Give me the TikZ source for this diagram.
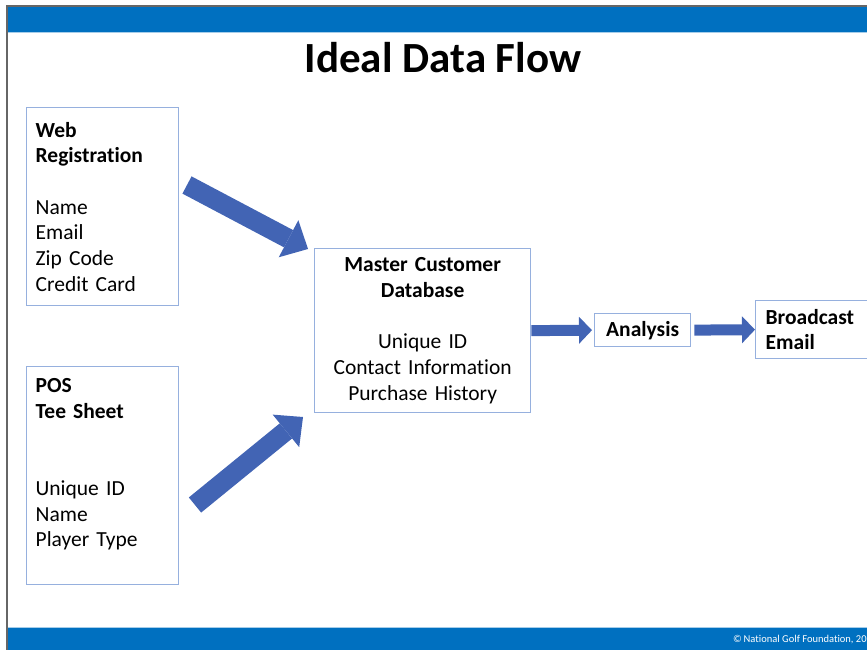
\documentclass[tikz,border=0pt]{standalone}
\usepackage{fontspec}
\setmainfont{Carlito}[Ligatures=NoCommon]
\usetikzlibrary{arrows.meta}

\definecolor{barblue}{RGB}{0,112,192}
\definecolor{boxline}{RGB}{150,176,222}
\definecolor{arrowblue}{RGB}{66,100,180}

\begin{document}
\begin{tikzpicture}[x=1pt, y=-1pt,
  databox/.style={draw=boxline, line width=1.3pt, anchor=north west, inner xsep=9pt, inner ysep=3pt,
    font=\fontsize{21.5}{25.7}\selectfont},
  bigflow/.style={line width=19.5pt, arrowblue, -{Triangle[length=22pt, width=42pt, line width=0pt]}},
  smallflow/.style={line width=11pt, arrowblue, -{Triangle[length=13pt, width=27pt, line width=0pt]}}]
  \useasboundingbox (0,0) rectangle (867,650);
  \clip (0,0) rectangle (867,650);

  % Slide frame and bars
  \fill[barblue] (7,7) rectangle (867,32);
  \draw[barblue!35] (7,32.5) -- (867,32.5);
  \fill[barblue] (7,628) rectangle (867,650);
  \draw[barblue!35] (7,627.5) -- (867,627.5);
  \draw[gray!80!black, line width=1.2pt] (7,650) -- (7,6) -- (867,6);
  \node[font=\fontsize{10.5}{12}\selectfont, text=white, anchor=west, inner sep=0pt] (credit)
    at (733,640) {\textcopyright\,National Golf Foundation, 2022};

  \node[font=\fontsize{43}{50}\selectfont\bfseries, anchor=base] (title) at (443,73) {Ideal Data Flow};

  % Sources
  \node[databox, text width=134pt, minimum height=198pt, align=left] (web) at (26,107)
    {\textbf{Web}\\\textbf{Registration}\\[25.7pt]Name\\Email\\Zip Code\\Credit Card};
  \node[databox, text width=134pt, minimum height=218pt, align=left] (pos) at (26,366)
    {\textbf{POS}\\\textbf{Tee Sheet}\\[51.4pt]Unique ID\\Name\\Player Type\\\mbox{}};

  % Master database and outputs
  \node[databox, text width=200pt, inner xsep=8pt, minimum height=164pt, align=center] (master) at (314,248)
    {\textbf{Master Customer}\\\textbf{Database}\\[25.7pt]Unique ID\\Contact Information\\Purchase History};
  \node[databox, inner xsep=0pt, minimum width=96pt, minimum height=33pt,
    font=\fontsize{21.5}{25.7}\selectfont\bfseries] (analysis) at (594,313) {Analysis};
  \node[databox, text width=110pt, inner xsep=10pt, minimum height=58pt, align=left,
    font=\fontsize{21.5}{25.7}\selectfont\bfseries] (bcast) at (755,300) {Broadcast\\Email};

  % Flow arrows
  \coordinate (webtail) at (187,185);
  \coordinate (webtip) at (308,249);
  \draw[bigflow] (webtail) -- (webtip);
  \coordinate (postail) at (195,505);
  \coordinate (postip) at (303,417);
  \draw[bigflow] (postail) -- (postip);
  \draw[smallflow] (master.east) -- ([xshift=-2pt]analysis.west);
  \draw[smallflow, shorten <=3pt] (analysis.east) -- (bcast.west);
\end{tikzpicture}
\end{document}
